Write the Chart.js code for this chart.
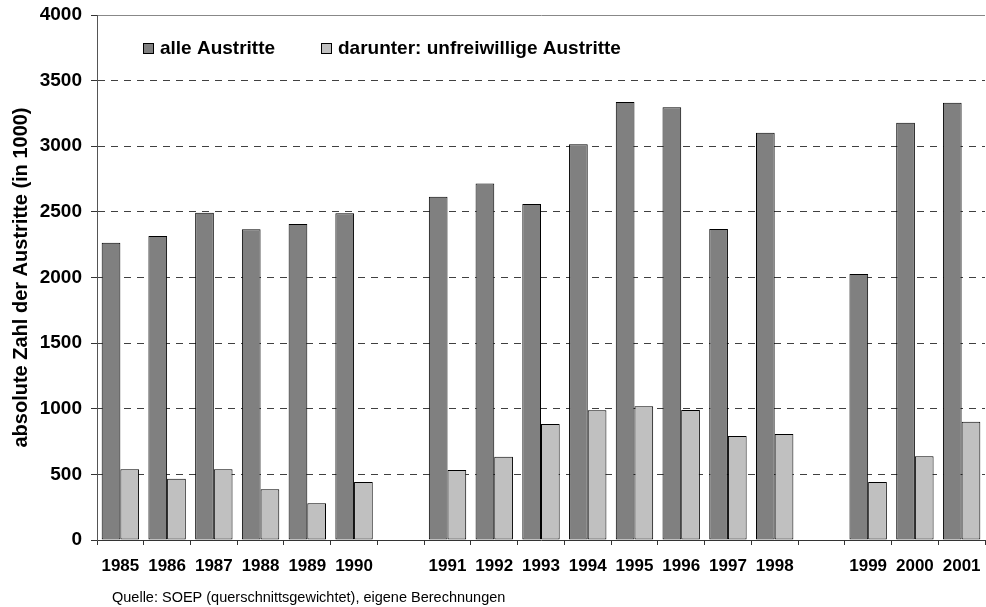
<!DOCTYPE html>
<html>
<head>
<meta charset="utf-8">
<script src="https://cdn.jsdelivr.net/npm/chart.js@4.4.0/dist/chart.umd.min.js"></script>
<style>
  body { margin: 0; background: #fff; }
  #wrap { width: 986px; height: 607px; }
</style>
</head>
<body>
<div id="wrap"><canvas id="myChart" width="986" height="607"></canvas></div>
<script>
// years, with two empty slots that split the periods
const years = ["1985", "1986", "1987", "1988", "1989", "1990", "",
  "1991", "1992", "1993", "1994", "1995", "1996", "1997", "1998", "",
  "1999", "2000", "2001"];
const alleAustritte = [2265, 2316, 2494, 2367, 2408, 2489, null,
  2616, 2717, 2560, 3015, 3337, 3297, 2370, 3103, null,
  2027, 3180, 3332];
const unfreiwillig = [539, 467, 539, 386, 280, 442, null,
  533, 635, 884, 988, 1019, 990, 792, 808, null,
  442, 638, 901];
const seriesNames = ["alle Austritte", "darunter: unfreiwillige Austritte"];
const yTicks = [0, 500, 1000, 1500, 2000, 2500, 3000, 3500, 4000];

const FONT = '"Liberation Sans", Arial, sans-serif';

// legend sits inside the plot, drawn by hand
const boxLegend = {
  id: "boxLegend",
  afterDraw(chart) {
    const ctx = chart.ctx;
    const xs = [143, 321];
    ctx.save();
    ctx.font = "bold 19px " + FONT;
    ctx.textBaseline = "middle";
    ctx.fillStyle = "#000";
    chart.data.datasets.forEach((ds, i) => {
      const x = xs[i];
      const y = 49;
      ctx.fillStyle = ds.backgroundColor;
      ctx.fillRect(x, y - 6, 11, 11);
      ctx.strokeStyle = "#000";
      ctx.lineWidth = 1;
      ctx.strokeRect(x + 0.5, y - 5.5, 10, 10);
      ctx.fillStyle = "#000";
      ctx.fillText(ds.label, x + 17, y);
    });
    ctx.font = "14.5px " + FONT;
    ctx.fillText("Quelle: SOEP (querschnittsgewichtet), eigene Berechnungen", 112, 598);
    ctx.restore();
  },
};

const ctx = document.getElementById("myChart");
new Chart(ctx, {
  type: "bar",
  data: {
    labels: years,
    datasets: [
      {
        label: seriesNames[0],
        data: alleAustritte,
        backgroundColor: "#808080",
        borderColor: "#000",
        borderWidth: 1,
        borderSkipped: false,
      },
      {
        label: seriesNames[1],
        data: unfreiwillig,
        backgroundColor: "#c0c0c0",
        borderColor: "#000",
        borderWidth: 1,
        borderSkipped: false,
      },
    ],
  },
  options: {
    responsive: false,
    animation: false,
    categoryPercentage: 0.8,
    barPercentage: 1.0,
    layout: { padding: { top: 15, right: 1, left: 0, bottom: 0 } },
    plugins: {
      legend: { display: false },
      tooltip: { enabled: false },
    },
    scales: {
      x: {
        afterFit: (scale) => {
          scale.height = 67;
          scale.paddingLeft = 0;
          scale.paddingRight = 0;
        },
        grid: {
          offset: true,
          drawOnChartArea: false,
          drawTicks: true,
          tickLength: 5,
          tickColor: "#333",
        },
        border: { color: "#333", width: 1 },
        ticks: {
          autoSkip: false,
          maxRotation: 0,
          padding: 11,
          color: "#000",
          font: { family: FONT, size: 17, weight: "bold" },
        },
      },
      y: {
        min: 0,
        max: 4000,
        afterFit: (scale) => {
          scale.width = 97;
          scale.paddingTop = 0;
          scale.paddingBottom = 0;
        },
        afterBuildTicks: (scale) => {
          scale.ticks = yTicks.map((v) => ({ value: v }));
        },
        grid: {
          color: (c) => {
            if (c.tick && c.tick.value === 0) return "rgba(0,0,0,0)";
            if (c.tick && c.tick.value === 4000) return "#888";
            return "#404040";
          },
          tickLength: 6,
          tickColor: "#333",
          tickBorderDash: [],
        },
        border: {
          color: "#555",
          width: 1,
          dash: (c) => (c.tick && c.tick.value === 4000 ? [] : [7, 6]),
        },
        ticks: {
          padding: 9,
          color: "#000",
          callback: (v) => String(v),
          font: { family: FONT, size: 19, weight: "bold" },
        },
        title: {
          display: true,
          text: "absolute Zahl der Austritte (in 1000)",
          color: "#000",
          padding: { top: 9, bottom: 0 },
          font: { family: FONT, size: 20, weight: "bold" },
        },
      },
    },
  },
  plugins: [boxLegend],
});
</script>
</body>
</html>
